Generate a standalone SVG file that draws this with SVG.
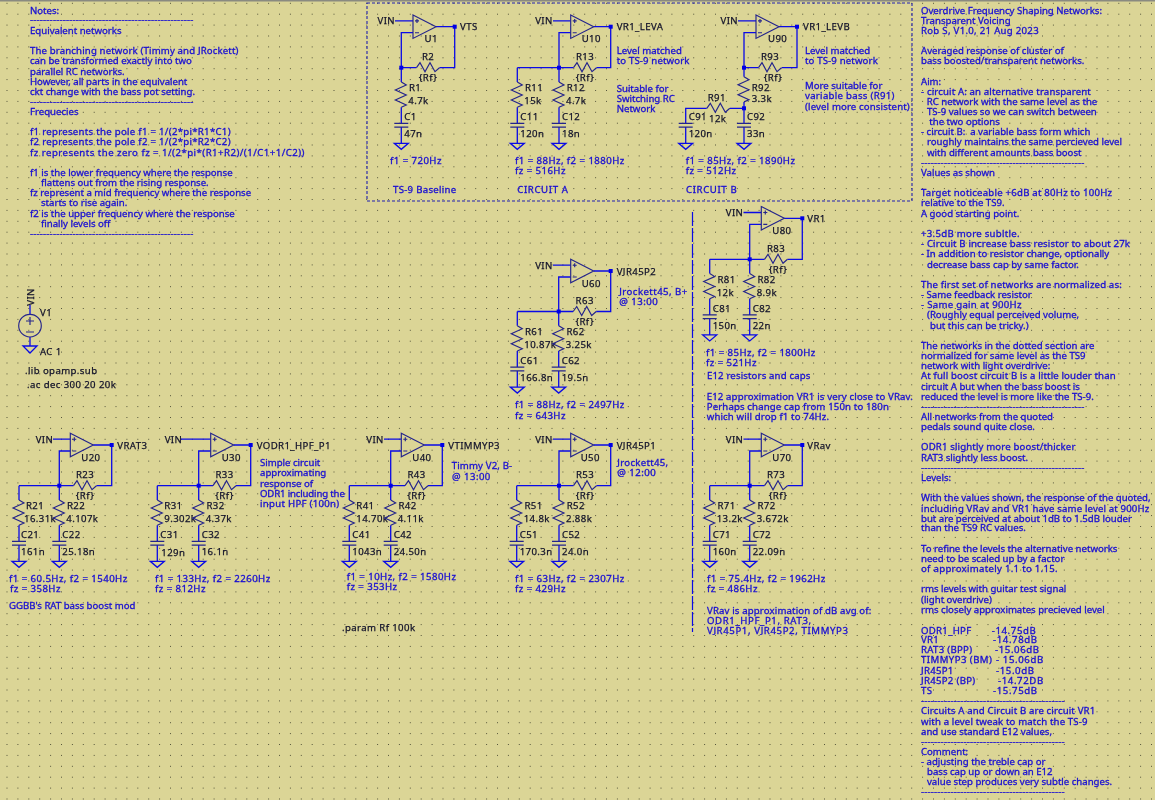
<svg xmlns="http://www.w3.org/2000/svg" width="1155" height="800" viewBox="0 0 1155 800">
<style>
text{font-family:"Noto Sans","DejaVu Sans",sans-serif;font-size:9.6px;dominant-baseline:central;white-space:pre;filter:url(#soft)}
.n{fill:#1a0fd2;stroke:#1a0fd2;stroke-width:.32}
.t{fill:#14142a;stroke:#14142a;stroke-width:.25;letter-spacing:.4px}
.m{text-anchor:middle}
.a{letter-spacing:.15px}
.b{letter-spacing:.3px}
.c{letter-spacing:.45px}
.e{letter-spacing:.62px}
.d{letter-spacing:.18px}
.w{fill:none;stroke:#0a0ae6;stroke-width:1.3}
.s{fill:none;stroke:#24248c;stroke-width:1.15}
.j{fill:#0000e6}
</style>
<defs>
<filter id="soft" x="-5%" y="-30%" width="110%" height="160%"><feGaussianBlur stdDeviation=".28"/></filter>
<pattern id="grid" width="10.9" height="10.9" patternUnits="userSpaceOnUse" x="6.5" y="2.8"><rect width="1" height="1" fill="#55553a"/></pattern>
<g id="op"><path class="s" d="M0 -11.7L23 0L0 11.7Z"/><path class="s" d="M2 -5.8h4M4 -7.8v4M2 6h4"/></g>
<path id="rv" class="s" d="M0 14.3L5 17.3L-6 22.3L5 27.3L-6 32.3L5 37.3L0 39.5"/>
<path id="rh" class="s" d="M-11.5 0L-8 -5L-3 4L2 -5L7 4L11.5 0"/>
<g id="cap"><path class="s" d="M-7 55.6H7M-7 59.4H7"/><path class="w" d="M-7 75.6H7L0 81.6Z" stroke-width="1"/></g>
<path id="legw" class="w" d="M0 0V14.3M0 39.5V55.6M0 59.4V75.6"/>
<rect id="dot" class="j" x="-2" y="-2" width="4" height="4"/>
</defs>
<rect width="1155" height="800" fill="#dbd596"/>
<rect width="1155" height="800" fill="url(#grid)"/>
<rect width="1155" height="1.5" fill="#8a8a80"/>

<g id="sections" fill="none">
<rect x="367" y="3" width="545" height="198" stroke="#2020b0" stroke-width="1.1" stroke-dasharray="3 2"/>
<path d="M692.5 212V632" stroke="#0a0ae6" stroke-width="1.2" stroke-dasharray="14 2"/>
</g>

<g id="connectors">
<path class="w" d="M395 20.9H413M413 32.7H401.3V67.7M436 26.7H454.7V67.7H439.5M416.5 67.7H401.3"/>
<use href="#legw" transform="translate(401.3,67.7)"/><use href="#dot" transform="translate(401.3,67.7)"/><use href="#dot" transform="translate(454.7,26.7)"/>

<path class="w" d="M553 20.9H570.7M570.7 32.7H559V67.7M593.7 26.7H610.7V67.7H596.5M573.5 67.7H517.3"/>
<use href="#legw" transform="translate(517.3,67.7)"/><use href="#legw" transform="translate(559,67.7)"/><use href="#dot" transform="translate(559,67.7)"/><use href="#dot" transform="translate(610.7,26.7)"/>

<path class="w" d="M738 20.9H756M756 32.7H744V76.7M779 26.7H797V67.7H781.7M758.5 67.7H744M744 101.9V123.3M744 127.1V143.3M730 108.3H744M706.7 108.3H685.7V123.3M685.7 127.1V143.3"/>
<use href="#dot" transform="translate(744,67.7)"/><use href="#dot" transform="translate(744,108.3)"/><use href="#dot" transform="translate(797,26.7)"/>

<path class="w" d="M553 265.2H570.7M570.7 277H558.7V311.5M593.7 271H610.7V311.5H596.2M573.2 311.5H517.3"/>
<use href="#legw" transform="translate(517.3,311.5)"/><use href="#legw" transform="translate(558.7,311.5)"/><use href="#dot" transform="translate(558.7,311.5)"/><use href="#dot" transform="translate(610.7,271)"/>

<path class="w" d="M743.5 212.5H761.3M761.3 224.3H749.7V259.3M784.3 218.3H802.3V259.3H787.5M764.5 259.3H709.7"/>
<use href="#legw" transform="translate(709.7,259.3)"/><use href="#legw" transform="translate(749.7,259.3)"/><use href="#dot" transform="translate(749.7,259.3)"/><use href="#dot" transform="translate(802.3,218.3)"/>

<path class="w" d="M53 439.2H70.3M70.3 451H59.3V485.7M93.3 445H111.7V485.7H96.5M73.5 485.7H19"/>
<use href="#legw" transform="translate(19,485.7)"/><use href="#legw" transform="translate(59.3,485.7)"/><use href="#dot" transform="translate(59.3,485.7)"/><use href="#dot" transform="translate(111.7,445)"/>

<path class="w" d="M181 439.2H210.7M210.7 451H198.7V485.7M233.7 445H250.7V485.7H236M213 485.7H157.3"/>
<use href="#legw" transform="translate(157.3,485.7)"/><use href="#legw" transform="translate(198.7,485.7)"/><use href="#dot" transform="translate(198.7,485.7)"/><use href="#dot" transform="translate(250.7,445)"/>

<path class="w" d="M384 439.2H401.3M401.3 451H390.7V485.7M424.3 445H442.3V485.7H428M405 485.7H349.3"/>
<use href="#legw" transform="translate(349.3,485.7)"/><use href="#legw" transform="translate(390.7,485.7)"/><use href="#dot" transform="translate(390.7,485.7)"/><use href="#dot" transform="translate(442.3,445)"/>

<path class="w" d="M553 439.2H570.7M570.7 451H559V485.7M593.7 445H610.7V485.7H596.5M573.5 485.7H516.7"/>
<use href="#legw" transform="translate(516.7,485.7)"/><use href="#legw" transform="translate(559,485.7)"/><use href="#dot" transform="translate(559,485.7)"/><use href="#dot" transform="translate(610.7,445)"/>

<path class="w" d="M743.5 439.2H761.3M761.3 451H749.7V485.7M784.3 445H802.3V485.7H787.5M764.5 485.7H709.7"/>
<use href="#legw" transform="translate(709.7,485.7)"/><use href="#legw" transform="translate(749.7,485.7)"/><use href="#dot" transform="translate(749.7,485.7)"/><use href="#dot" transform="translate(802.3,445)"/>

<path class="w" d="M30 305V314.4M30 337V346"/>
</g>

<g id="V1"><circle class="s" cx="30" cy="325.7" r="11.3"/><path class="s" d="M26 321h8M30 317v8M26 332h8"/><path class="w" stroke-width="1" d="M23 346H37L30 353Z"/>
<text class="t m" transform="translate(30,297) rotate(-90)">VIN</text><text class="t" x="40" y="312">V1</text><text class="t" x="40" y="351">AC 1</text></g>
<g id="directives"><text class="t" x="25" y="370">.lib opamp.sub</text><text class="t" x="27" y="384">.ac dec 300 20 20k</text><text class="t" x="342" y="627.7">.param Rf 100k</text></g>

<g id="U1" transform="translate(413,26.7)"><use href="#op"/><text class="t" x="-35.5" y="-5.8">VIN</text><text class="t" x="11.5" y="12.3">U1</text><text class="t" x="47" y="0">VTS</text></g>
<g id="R2" transform="translate(428,67.7)"><use href="#rh"/><text class="t m" y="-11">R2</text><text class="t m" y="10">{Rf}</text></g>
<g id="R1" transform="translate(401.3,67.7)"><use href="#rv"/><text class="t" x="7.7" y="20">R1</text><text class="t" x="7" y="33.3">4.7k</text></g>
<g id="C1" transform="translate(401.3,67.7)"><use href="#cap"/><text class="t" x="3" y="49.3">C1</text><text class="t" x="3" y="66.3">47n</text></g>

<g id="U10" transform="translate(570.7,26.7)"><use href="#op"/><text class="t" x="-35.5" y="-5.8">VIN</text><text class="t" x="11" y="12.3">U10</text><text class="t" x="46" y="0">VR1_LEVA</text></g>
<g id="R13" transform="translate(585,67.7)"><use href="#rh"/><text class="t m" y="-11">R13</text><text class="t m" y="10">{Rf}</text></g>
<g id="R11" transform="translate(517.3,67.7)"><use href="#rv"/><text class="t" x="7.7" y="20">R11</text><text class="t" x="7" y="33.3">15k</text></g>
<g id="C11" transform="translate(517.3,67.7)"><use href="#cap"/><text class="t" x="3" y="49.3">C11</text><text class="t" x="3" y="66.3">120n</text></g>
<g id="R12" transform="translate(559,67.7)"><use href="#rv"/><text class="t" x="7.7" y="20">R12</text><text class="t" x="7" y="33.3">4.7k</text></g>
<g id="C12" transform="translate(559,67.7)"><use href="#cap"/><text class="t" x="3" y="49.3">C12</text><text class="t" x="3" y="66.3">18n</text></g>

<g id="U90" transform="translate(756,26.7)"><use href="#op"/><text class="t" x="-35.5" y="-5.8">VIN</text><text class="t" x="12" y="12.3">U90</text><text class="t" x="47" y="0">VR1_LEVB</text></g>
<g id="R93" transform="translate(770,67.7)"><use href="#rh"/><text class="t m" y="-11">R93</text><text class="t m" x="3" y="10">{Rf}</text></g>
<g id="R92" transform="translate(744,62.4)"><use href="#rv"/><text class="t" x="7.7" y="25.3">R92</text><text class="t" x="7.7" y="35.9">3.3k</text></g>
<g id="R91" transform="translate(718.3,108.3)"><use href="#rh"/><text class="t m" x="-1.6" y="-11.3">R91</text><text class="t" x="-9.3" y="10.4">12k</text></g>
<g id="C91" transform="translate(685.7,67.7)"><use href="#cap"/><text class="t" x="3" y="49.3">C91</text><text class="t" x="3" y="66.3">120n</text></g>
<g id="C92" transform="translate(744,67.7)"><use href="#cap"/><text class="t" x="3" y="49.3">C92</text><text class="t" x="3" y="66.3">33n</text></g>

<g id="U60" transform="translate(570.7,271)"><use href="#op"/><text class="t" x="-35.5" y="-5.8">VIN</text><text class="t" x="11" y="12.3">U60</text><text class="t" x="46" y="0">VJR45P2</text></g>
<g id="R63" transform="translate(584.7,311.5)"><use href="#rh"/><text class="t m" y="-11">R63</text><text class="t m" y="10">{Rf}</text></g>
<g id="R61" transform="translate(517.3,311.5)"><use href="#rv"/><text class="t" x="7.7" y="20">R61</text><text class="t" x="7" y="33.3">10.87k</text></g>
<g id="C61" transform="translate(517.3,311.5)"><use href="#cap"/><text class="t" x="3" y="49.3">C61</text><text class="t" x="3" y="66.3">166.8n</text></g>
<g id="R62" transform="translate(558.7,311.5)"><use href="#rv"/><text class="t" x="7.7" y="20">R62</text><text class="t" x="7" y="33.3">3.25k</text></g>
<g id="C62" transform="translate(558.7,311.5)"><use href="#cap"/><text class="t" x="3" y="49.3">C62</text><text class="t" x="3" y="66.3">19.5n</text></g>

<g id="U80" transform="translate(761.3,218.3)"><use href="#op"/><text class="t" x="-35.5" y="-5.8">VIN</text><text class="t" x="11" y="12.3">U80</text><text class="t" x="46" y="0">VR1</text></g>
<g id="R83" transform="translate(776,259.3)"><use href="#rh"/><text class="t m" y="-11">R83</text><text class="t m" x="2" y="10">{Rf}</text></g>
<g id="R81" transform="translate(709.7,259.3)"><use href="#rv"/><text class="t" x="7.7" y="20">R81</text><text class="t" x="7" y="33.3">12k</text></g>
<g id="C81" transform="translate(709.7,259.3)"><use href="#cap"/><text class="t" x="3" y="49.3">C81</text><text class="t" x="3" y="66.3">150n</text></g>
<g id="R82" transform="translate(749.7,259.3)"><use href="#rv"/><text class="t" x="7.7" y="20">R82</text><text class="t" x="7" y="33.3">8.9k</text></g>
<g id="C82" transform="translate(749.7,259.3)"><use href="#cap"/><text class="t" x="3" y="49.3">C82</text><text class="t" x="3" y="66.3">22n</text></g>

<g id="U20" transform="translate(70.3,445)"><use href="#op"/><text class="t" x="-34.6" y="-5.8">VIN</text><text class="t" x="11" y="12.3">U20</text><text class="t" x="47" y="0">VRAT3</text></g>
<g id="R23" transform="translate(85,485.7)"><use href="#rh"/><text class="t m" y="-11">R23</text><text class="t m" y="10">{Rf}</text></g>
<g id="R21" transform="translate(19,485.7)"><use href="#rv"/><text class="t" x="7" y="20">R21</text><text class="t" x="5" y="33.3">16.31k</text></g>
<g id="C21" transform="translate(19,485.7)"><use href="#cap"/><text class="t" x="2" y="49.3">C21</text><text class="t" x="2" y="66.3">161n</text></g>
<g id="R22" transform="translate(59.3,485.7)"><use href="#rv"/><text class="t" x="7.7" y="20">R22</text><text class="t" x="7" y="33.3">4.107k</text></g>
<g id="C22" transform="translate(59.3,485.7)"><use href="#cap"/><text class="t" x="3" y="49.3">C22</text><text class="t" x="3" y="66.3">25.18n</text></g>

<g id="U30" transform="translate(210.7,445)"><use href="#op"/><text class="t" x="-46" y="-5.8">VIN</text><text class="t" x="11" y="12.3">U30</text><text class="t" x="46" y="0">VODR1_HPF_P1</text></g>
<g id="R33" transform="translate(224.5,485.7)"><use href="#rh"/><text class="t m" y="-11">R33</text><text class="t m" y="10">{Rf}</text></g>
<g id="R31" transform="translate(157.3,485.7)"><use href="#rv"/><text class="t" x="7" y="20">R31</text><text class="t" x="7" y="33.3">9.302k</text></g>
<g id="C31" transform="translate(157.3,485.7)"><use href="#cap"/><text class="t" x="3" y="49.3">C31</text><text class="t" x="4" y="67">129n</text></g>
<g id="R32" transform="translate(198.7,485.7)"><use href="#rv"/><text class="t" x="7.7" y="20">R32</text><text class="t" x="7" y="33.3">4.37k</text></g>
<g id="C32" transform="translate(198.7,485.7)"><use href="#cap"/><text class="t" x="3" y="49.3">C32</text><text class="t" x="3" y="66.3">16.1n</text></g>

<g id="U40" transform="translate(401.3,445)"><use href="#op"/><text class="t" x="-35" y="-5.8">VIN</text><text class="t" x="11" y="12.3">U40</text><text class="t" x="47" y="0">VTIMMYP3</text></g>
<g id="R43" transform="translate(416.5,485.7)"><use href="#rh"/><text class="t m" y="-11">R43</text><text class="t m" y="10">{Rf}</text></g>
<g id="R41" transform="translate(349.3,485.7)"><use href="#rv"/><text class="t" x="7" y="20">R41</text><text class="t" x="7" y="33.3">14.70k</text></g>
<g id="C41" transform="translate(349.3,485.7)"><use href="#cap"/><text class="t" x="3" y="49.3">C41</text><text class="t" x="3" y="66.3">1043n</text></g>
<g id="R42" transform="translate(390.7,485.7)"><use href="#rv"/><text class="t" x="7.7" y="20">R42</text><text class="t" x="7" y="33.3">4.11k</text></g>
<g id="C42" transform="translate(390.7,485.7)"><use href="#cap"/><text class="t" x="3" y="49.3">C42</text><text class="t" x="3" y="66.3">24.50n</text></g>

<g id="U50" transform="translate(570.7,445)"><use href="#op"/><text class="t" x="-35.5" y="-5.8">VIN</text><text class="t" x="10" y="12.3">U50</text><text class="t" x="46" y="0">VJR45P1</text></g>
<g id="R53" transform="translate(585,485.7)"><use href="#rh"/><text class="t m" y="-11">R53</text><text class="t m" y="10">{Rf}</text></g>
<g id="R51" transform="translate(516.7,485.7)"><use href="#rv"/><text class="t" x="7.7" y="20">R51</text><text class="t" x="7" y="33.3">14.8k</text></g>
<g id="C51" transform="translate(516.7,485.7)"><use href="#cap"/><text class="t" x="3" y="49.3">C51</text><text class="t" x="3" y="66.3">170.3n</text></g>
<g id="R52" transform="translate(559,485.7)"><use href="#rv"/><text class="t" x="7.7" y="20">R52</text><text class="t" x="7" y="33.3">2.88k</text></g>
<g id="C52" transform="translate(559,485.7)"><use href="#cap"/><text class="t" x="3" y="49.3">C52</text><text class="t" x="3" y="66.3">24.0n</text></g>

<g id="U70" transform="translate(761.3,445)"><use href="#op"/><text class="t" x="-35.5" y="-5.8">VIN</text><text class="t" x="11" y="12.3">U70</text><text class="t" x="46" y="0">VRav</text></g>
<g id="R73" transform="translate(776,485.7)"><use href="#rh"/><text class="t m" y="-11">R73</text><text class="t m" x="2" y="10">{Rf}</text></g>
<g id="R71" transform="translate(709.7,485.7)"><use href="#rv"/><text class="t" x="7.7" y="20">R71</text><text class="t" x="7" y="33.3">13.2k</text></g>
<g id="C71" transform="translate(709.7,485.7)"><use href="#cap"/><text class="t" x="3" y="49.3">C71</text><text class="t" x="3" y="66.3">160n</text></g>
<g id="R72" transform="translate(749.7,485.7)"><use href="#rv"/><text class="t" x="7.7" y="20">R72</text><text class="t" x="7" y="33.3">3.672k</text></g>
<g id="C72" transform="translate(749.7,485.7)"><use href="#cap"/><text class="t" x="3" y="49.3">C72</text><text class="t" x="3" y="66.3">22.09n</text></g>

<g id="circuit-notes">
<text class="n c" x="390" y="160.3">f1 = 720Hz</text><text class="n b" x="393" y="189.7">TS-9 Baseline</text>
<text class="n c" x="515" y="160.3">f1 = 88Hz, f2 = 1880Hz</text><text class="n c" x="515" y="170.3">fz = 516Hz</text><text class="n e" x="517.3" y="189.7">CIRCUIT A</text>
<text class="n" x="616.7" y="50.7">Level matched</text><text class="n a" x="616.7" y="60.7">to TS-9 network</text><text class="n" x="616.7" y="88">Suitable for</text><text class="n" x="616.7" y="98.7">Switching RC</text><text class="n" x="616.7" y="108.7">Network</text>
<text class="n c" x="685.7" y="160.3">f1 = 85Hz, f2 = 1890Hz</text><text class="n c" x="685.7" y="170.3">fz = 512Hz</text><text class="n e" x="686" y="189.7">CIRCUIT B</text>
<text class="n" x="805" y="50.7">Level matched</text><text class="n a" x="805" y="60.7">to TS-9 network</text><text class="n" x="805" y="85">More suitable for</text><text class="n b" x="805" y="95">variable bass (R91)</text><text class="n a" x="805" y="106">(level more consistent)</text>
<text class="n c" x="9" y="578.3">f1 = 60.5Hz, f2 = 1540Hz</text><text class="n c" x="10" y="588.7">fz = 358Hz</text><text class="n" x="9" y="605.3">GGBB's RAT bass boost mod</text>
<text class="n c" x="155" y="578.3">f1 = 133Hz, f2 = 2260Hz</text><text class="n c" x="155" y="588.7">fz = 812Hz</text>
<text class="n" x="260" y="462.7">Simple circuit</text><text class="n" x="260" y="472.7">approximating</text><text class="n" x="260" y="483.3">response of</text><text class="n" style="letter-spacing:-.15px" x="260" y="493.3">ODR1 including the</text><text class="n b" x="260" y="503.3">input HPF (100n)</text>
<text class="n a" x="451.7" y="465.7">Timmy V2, B-</text><text class="n c" x="452" y="476">@ 13:00</text><text class="n c" x="346.7" y="576">f1 = 10Hz, f2 = 1580Hz</text><text class="n c" x="346.7" y="586">fz = 353Hz</text>
<text class="n b" x="617.3" y="462.7">Jrockett45,</text><text class="n c" x="617.3" y="472.7">@ 12:00</text><text class="n c" x="515" y="578.3">f1 = 63Hz, f2 = 2307Hz</text><text class="n c" x="515" y="588.7">fz = 429Hz</text>
<text class="n c" x="619.3" y="291.7">Jrockett45, B+</text><text class="n c" x="619.3" y="301.7">@ 13:00</text><text class="n c" x="515" y="404">f1 = 88Hz, f2 = 2497Hz</text><text class="n c" x="515" y="415">fz = 643Hz</text>
<text class="n c" x="706" y="352">f1 = 85Hz, f2 = 1800Hz</text><text class="n c" x="706" y="362.3">fz = 521Hz</text><text class="n a" x="707" y="375">E12 resistors and caps</text>
<text class="n a" x="706.7" y="396">E12 approximation VR1 is very close to VRav.</text><text class="n a" x="706.7" y="406">Perhaps change cap from 150n to 180n</text><text class="n a" x="706.7" y="416">which will drop f1 to 74Hz.</text>
<text class="n c" x="707" y="578.3">f1 = 75.4Hz, f2 = 1962Hz</text><text class="n c" x="707" y="588.7">fz = 486Hz</text>
<text class="n a" x="707" y="610.7">VRav is approximation of dB avg of:</text><text class="n e" x="707" y="620.3">ODR1_HPF_P1, RAT3,</text><text class="n e" x="707" y="630.7">VJR45P1, VJR45P2, TIMMYP3</text>
</g>

<g id="notes-left">
<text class="n" x="30" y="10">Notes:</text>
<text class="n d" x="30" y="19">--------------------------------------------------</text>
<text class="n" x="30" y="30.7">Equivalent networks</text>
<text class="n a" x="30" y="50.7">The branching network (Timmy and JRockett)</text>
<text class="n" x="30" y="60.7">can be transformed exactly into two</text>
<text class="n" x="30" y="71">parallel RC networks.</text>
<text class="n" x="30" y="81">However, all parts in the equivalent</text>
<text class="n" x="30" y="91.3">ckt change with the bass pot setting.</text>
<text class="n d" x="30" y="101">--------------------------------------------------</text>
<text class="n" x="30" y="111.7">Frequecies</text>
<text class="n b" x="30" y="131.7">f1 represents the pole f1 = 1/(2*pi*R1*C1)</text>
<text class="n b" x="30" y="141.7">f2 represents the pole f2 = 1/(2*pi*R2*C2)</text>
<text class="n" style="letter-spacing:.48px" x="30" y="152.7">fz represents the zero fz = 1/(2*pi*(R1+R2)/(1/C1+1/C2))</text>
<text class="n" x="30" y="172.7">f1 is the lower frequency where the response</text>
<text class="n" x="41" y="182.7">flattens out from the rising response.</text>
<text class="n" x="30" y="192.7">fz represent a mid frequency where the response</text>
<text class="n" x="41" y="202.7">starts to rise again.</text>
<text class="n" x="30" y="213.3">f2 is the upper frequency where the response</text>
<text class="n" x="41" y="223.3">finally levels off</text>
<text class="n d" x="30" y="233.3">--------------------------------------------------</text>
</g>

<g id="notes-right">
<text class="n" x="921" y="10">Overdrive Frequency Shaping Networks:</text>
<text class="n" x="921" y="20">Transparent Voicing</text>
<text class="n b" x="921" y="30.3">Rob S, V1.0, 21 Aug 2023</text>
<text class="n" x="921" y="50.7">Averaged response of cluster of</text>
<text class="n" x="921" y="60.7">bass boosted/transparent networks.</text>
<text class="n" x="921" y="81">Aim:</text>
<text class="n a" x="921" y="91.7">- circuit A: an alternative transparent</text>
<text class="n" x="926.7" y="101.7">RC network with the same level as the</text>
<text class="n" x="927" y="111.7">TS-9 values so we can switch between</text>
<text class="n" x="929.3" y="121.7">the two options</text>
<text class="n" x="921" y="131.7">- circuit B:  a variable bass form which</text>
<text class="n" x="927" y="141.7">roughly maintains the same percieved level</text>
<text class="n" x="927" y="152.3">with different amounts bass boost</text>
<text class="n d" x="921" y="162.3">--------------------------------------------------</text>
<text class="n" x="921" y="172.7">Values as shown</text>
<text class="n" style="letter-spacing:.23px" x="921" y="192.7">Target noticeable +6dB at 80Hz to 100Hz</text>
<text class="n" x="921" y="202.7">relative to the TS9.</text>
<text class="n" x="921" y="213.3">A good starting point.</text>
<text class="n b" x="921" y="233.3">+3.5dB more subltle.</text>
<text class="n a" x="921" y="243.3">- Circuit B increase bass resistor to about 27k</text>
<text class="n" x="921" y="253.3">- In addition to resistor change, optionally</text>
<text class="n" x="927" y="264.3">decrease bass cap by same factor.</text>
<text class="n a" x="921" y="284">The first set of networks are normalized as:</text>
<text class="n" x="921" y="294">- Same feedback resistor</text>
<text class="n b" x="921" y="304.3">- Same gain at 900Hz</text>
<text class="n" x="927" y="314.3">(Roughly equal perceived volume,</text>
<text class="n" x="930" y="325">but this can be tricky.)</text>
<text class="n" x="921" y="345">The networks in the dotted section are</text>
<text class="n" x="921" y="355">normalized for same level as the TS9</text>
<text class="n" x="921" y="365">network with light overdrive:</text>
<text class="n a" x="921" y="375">At full boost circuit B is a little louder than</text>
<text class="n" x="921" y="386">circuit A but when the bass boost is</text>
<text class="n" x="921" y="396">reduced the level is more like the TS-9.</text>
<text class="n d" x="921" y="406">--------------------------------------------------</text>
<text class="n" x="921" y="416">All networks from the quoted</text>
<text class="n" x="921" y="426">pedals sound quite close.</text>
<text class="n a" x="921" y="446.7">ODR1 slightly more boost/thicker</text>
<text class="n" x="921" y="457">RAT3 slightly less boost.</text>
<text class="n d" x="921" y="467">--------------------------------------------------</text>
<text class="n" x="921" y="477">Levels:</text>
<text class="n" style="letter-spacing:-.04px" x="921" y="497.7">With the values shown, the response of the quoted,</text>
<text class="n a" x="921" y="508">including VRav and VR1 have same level at 900Hz</text>
<text class="n" x="921" y="518">but are perceived at about 1dB to 1.5dB louder</text>
<text class="n" x="921" y="527.7">than the TS9 RC values.</text>
<text class="n" x="921" y="548">To refine the levels the alternative networks</text>
<text class="n" x="921" y="558.7">need to be scaled up by a factor</text>
<text class="n b" x="921" y="568.7">of approximately 1.1 to 1.15.</text>
<text class="n" x="921" y="588.7">rms levels with guitar test signal</text>
<text class="n" x="921" y="599">(light overdrive)</text>
<text class="n" x="921" y="609">rms closely approximates precieved level</text>
<text class="n b" y="630"><tspan x="921">ODR1_HPF</tspan><tspan class="e" x="991.7">-14.75dB</tspan></text>
<text class="n b" y="639.3"><tspan x="921">VR1</tspan><tspan class="e" x="993">-14.78dB</tspan></text>
<text class="n b" y="649.3"><tspan x="921">RAT3 (BPP)</tspan><tspan class="e" x="995">-15.06dB</tspan></text>
<text class="n c" y="659.3"><tspan x="921">TIMMYP3 (BM)</tspan><tspan class="e" x="996">- 15.06dB</tspan></text>
<text class="n b" y="670"><tspan x="921">JR45P1</tspan><tspan class="e" x="996">-15.0dB</tspan></text>
<text class="n b" y="680"><tspan x="921">JR45P2 (BP)</tspan><tspan class="e" x="998">-14.72DB</tspan></text>
<text class="n b" y="690"><tspan x="921">TS</tspan><tspan class="e" x="993">-15.75dB</tspan></text>
<text class="n d" x="921" y="700">--------------------------------------------</text>
<text class="n a" x="921" y="710.3">Circuits A and Circuit B are circuit VR1</text>
<text class="n a" x="921" y="721">with a level tweak to match the TS-9</text>
<text class="n" x="921" y="731.7">and use standard E12 values,</text>
<text class="n d" x="921" y="741">--------------------------------------------</text>
<text class="n" x="921" y="751.3">Comment:</text>
<text class="n" x="921" y="761.3">- adjusting the treble cap or</text>
<text class="n" x="927" y="771.3">bass cap up or down an E12</text>
<text class="n" x="927" y="781.7">value step produces very subtle changes.</text>
<text class="n d" x="921" y="791.7">--------------------------------------------</text>
</g>
</svg>
